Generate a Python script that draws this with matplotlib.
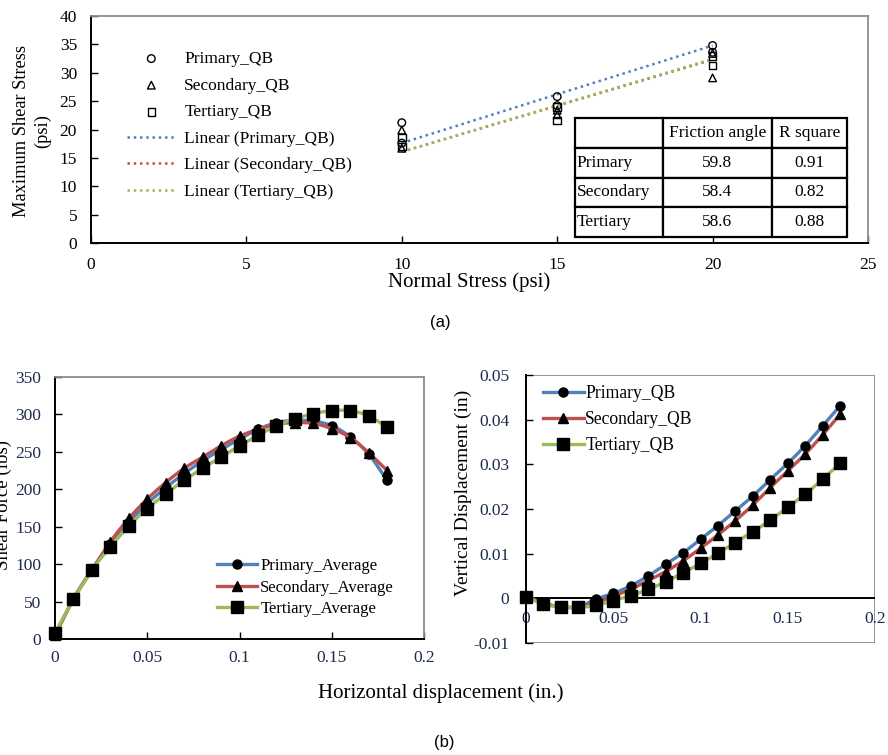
import numpy as np
import matplotlib
matplotlib.use("Agg")
import matplotlib.pyplot as plt
import matplotlib.transforms as mtransforms
from matplotlib.lines import Line2D
from matplotlib.patches import Rectangle

plt.rcParams['font.family'] = ['Liberation Serif', 'DejaVu Serif']

# ---------------- (a) shear strength envelopes ----------------
normal_stress = [10, 10, 15, 15, 20, 20]
primary_tau = [21.2, 17.6, 25.8, 24.2, 34.8, 33.6]
secondary_tau = [19.9, 16.7, 23.4, 22.6, 33.4, 29.1]
tertiary_tau = [18.6, 17.0, 24.0, 21.6, 33.0, 31.3]

table_rows = ["Primary", "Secondary", "Tertiary"]
table_cols = ["", "Friction angle", "R square"]
friction_angle = [59.8, 58.4, 58.6]
r_square = [0.91, 0.82, 0.88]

# ---------------- (b) direct shear curves ----------------
horiz_disp = [0.00, 0.01, 0.02, 0.03, 0.04, 0.05, 0.06, 0.07, 0.08, 0.09,
              0.10, 0.11, 0.12, 0.13, 0.14, 0.15, 0.16, 0.17, 0.18]
shear_primary = [5, 54, 93, 127, 156, 181, 202, 221, 238, 253,
                 267, 280, 289, 292, 291, 285, 270, 247, 212]
shear_secondary = [5, 53, 92, 130, 161, 187, 209, 228, 243, 258,
                   271, 280, 287, 289, 288, 281, 269, 249, 225]
shear_tertiary = [8, 53, 92, 123, 151, 174, 194, 212, 228, 243,
                  258, 272, 285, 294, 301, 305, 305, 298, 283]

vert_primary = [0.0004, -0.0011, -0.0019, -0.0019, -0.0002, 0.0011, 0.0028, 0.0050,
                0.0076, 0.0102, 0.0132, 0.0163, 0.0196, 0.0229, 0.0266, 0.0302,
                0.0342, 0.0386, 0.0431]
vert_secondary = [0.0004, -0.0011, -0.0019, -0.0020, -0.0010, 0.0005, 0.0020, 0.0040,
                  0.0060, 0.0084, 0.0112, 0.0142, 0.0174, 0.0209, 0.0248, 0.0285,
                  0.0323, 0.0366, 0.0412]
vert_tertiary = [0.0004, -0.0013, -0.0019, -0.0020, -0.0016, -0.0005, 0.0006, 0.0020,
                 0.0037, 0.0057, 0.0078, 0.0101, 0.0125, 0.0149, 0.0175, 0.0204,
                 0.0233, 0.0267, 0.0302]

x_ticks_b = [0, 0.05, 0.1, 0.15, 0.2]
x_ticklabels_b = ["0", "0.05", "0.1", "0.15", "0.2"]

BLUE = '#4F81BD'
RED = '#C0504D'
GREEN = '#9BBB59'
BORDER = '#8c8c8c'
TICKCOL = '#1d2b4f'

W, H = 888, 755
fig = plt.figure(figsize=(W / 100, H / 100), dpi=100)


def px_axes(x0, y0, x1, y1):
    """Axes from pixel box (top-left origin)."""
    return fig.add_axes([x0 / W, 1 - y1 / H, (x1 - x0) / W, (y1 - y0) / H])


def smooth(x, y, n=14):
    """Catmull-Rom curve through the points (like a smoothed chart line)."""
    pts = np.column_stack([x, y]).astype(float)
    P = np.vstack([2 * pts[0] - pts[1], pts, 2 * pts[-1] - pts[-2]])
    t = np.linspace(0, 1, n, endpoint=False)[:, None]
    segs = []
    for i in range(1, len(P) - 2):
        p0, p1, p2, p3 = P[i - 1], P[i], P[i + 1], P[i + 2]
        seg = 0.5 * (2 * p1 + (-p0 + p2) * t + (2 * p0 - 5 * p1 + 4 * p2 - p3) * t ** 2
                     + (-p0 + 3 * p1 - 3 * p2 + p3) * t ** 3)
        segs.append(seg)
    segs.append(pts[-1:])
    c = np.vstack(segs)
    return c[:, 0], c[:, 1]


def frame(ax):
    for s in ['top', 'right']:
        ax.spines[s].set_color(BORDER)
        ax.spines[s].set_linewidth(1.3)
    for s in ['left', 'bottom']:
        ax.spines[s].set_color('black')
        ax.spines[s].set_linewidth(1.4)


# ======================= panel (a) =======================
axa = px_axes(91, 16, 868, 243)
frame(axa)
axa.set_xlim(0, 25)
axa.set_ylim(0, 40)
axa.set_xticks(range(0, 26, 5))
axa.set_yticks(range(0, 41, 5))
axa.tick_params(direction='in', length=5, width=1, labelsize=12.5, pad=10,
                colors='black')
axa.tick_params(axis='x', pad=10)

mk = dict(s=30, facecolors='none', edgecolors='black', linewidths=1.0, zorder=3)
axa.scatter(normal_stress, primary_tau, marker='o', label='Primary_QB', **mk)
axa.scatter(normal_stress, secondary_tau, marker='^', label='Secondary_QB', **mk)
axa.scatter(normal_stress, tertiary_tau, marker='s', label='Tertiary_QB', **mk)

xs = np.array([min(normal_stress), max(normal_stress)], dtype=float)
for tau, phi, col, name in [(primary_tau, friction_angle[0], BLUE, 'Primary_QB'),
                            (secondary_tau, friction_angle[1], RED, 'Secondary_QB'),
                            (tertiary_tau, friction_angle[2], GREEN, 'Tertiary_QB')]:
    slope = np.tan(np.radians(phi))
    icpt = np.mean(tau) - slope * np.mean(normal_stress)
    axa.plot(xs, icpt + slope * xs, color=col, lw=1.8, ls=(0, (1, 1.5)),
             label=f'Linear ({name})', zorder=2)

axa.legend(loc='upper left', bbox_to_anchor=(127 / W, 1 - 51 / H),
           bbox_transform=fig.transFigure, frameon=False, fontsize=12.5,
           handlelength=2.8, handletextpad=0.5, labelspacing=0.6,
           borderpad=0, borderaxespad=0, scatterpoints=1)

cell_text = [[table_rows[i], f"{friction_angle[i]:.1f}", f"{r_square[i]:.2f}"]
             for i in range(3)]
tb = axa.table(cellText=cell_text, colLabels=table_cols,
               colWidths=[88, 110, 75], cellLoc='center',
               bbox=[(575 - 91) / 777, (243 - 237) / 227, 272 / 777, 119 / 227])
tb.auto_set_font_size(False)
tb.set_fontsize(12.5)
for (r, c), cell in tb.get_celld().items():
    cell.set_linewidth(1.6)
    cell.set_edgecolor('black')
    cell.set_facecolor('white')
    if c == 0:
        cell._loc = 'left'
        cell.PAD = 0.02
        cell.get_text().set_ha('left')

fig.text(32 / W, 1 - 131 / H, "Maximum Shear Stress\n(psi)", rotation=90,
         ha='center', va='center', fontsize=13.2, linespacing=1.25)
fig.text(469 / W, 1 - 282 / H, "Normal Stress (psi)", ha='center', va='center',
         fontsize=15)
fig.text(440 / W, 1 - 323 / H, "(a)", ha='center', va='center', fontsize=12,
         family='Liberation Sans')

# ======================= panel (b) left =======================
axl = px_axes(55, 377, 424, 639)
frame(axl)
axl.set_xlim(0, 0.2)
axl.set_ylim(0, 350)
axl.set_xticks(x_ticks_b)
axl.set_xticklabels(x_ticklabels_b)
axl.set_yticks(range(0, 351, 50))
axl.tick_params(direction='in', length=5, width=1, labelsize=12.5, pad=10,
                labelcolor=TICKCOL)
axl.tick_params(axis='x', pad=8)

series_l = [(shear_primary, BLUE, 'o', 6.5, 'Primary_Average'),
            (shear_secondary, RED, '^', 7.5, 'Secondary_Average'),
            (shear_tertiary, GREEN, 's', 8, 'Tertiary_Average')]
handles = []
for ys, col, m, ms, name in series_l:
    sx, sy = smooth(horiz_disp, ys)
    axl.plot(sx, sy, color=col, lw=2.4, solid_capstyle='round', clip_on=False)
    axl.plot(horiz_disp, ys, ls='none', marker=m, ms=ms, color='black', clip_on=False)
    handles.append(Line2D([], [], color=col, lw=2.4, marker=m, ms=ms,
                          mfc='black', mec='black', label=name))
axl.legend(handles=handles, loc='upper left', bbox_to_anchor=(217 / W, 1 - 558 / H),
           bbox_transform=fig.transFigure, frameon=False, fontsize=12,
           handlelength=2.4, handletextpad=0.2, labelspacing=0.33,
           borderpad=0, borderaxespad=0)

fig.text(12 / W, 1 - 505 / H, "Shear Force (lbs)", rotation=90, ha='right',
         va='center', fontsize=13.6)

# ======================= panel (b) right =======================
axr = px_axes(526, 375, 875, 643)
axr.set_xlim(0, 0.2)
axr.set_ylim(-0.01, 0.05)
for s in ['top', 'right', 'bottom']:
    axr.spines[s].set_visible(False)
axr.add_patch(Rectangle((0, 0), 1, 1, transform=axr.transAxes, fill=False,
                        edgecolor=BORDER, lw=1.3, zorder=0.5))
axr.spines['left'].set_color('black')
axr.spines['left'].set_linewidth(1.4)
axr.spines['left'].set_zorder(3)
axr.axhline(0, color='black', lw=1.4, zorder=1.5)
axr.set_xticks([])
axr.set_yticks([-0.01, 0, 0.01, 0.02, 0.03, 0.04, 0.05])
axr.set_yticklabels(["-0.01", "0", "0.01", "0.02", "0.03", "0.04", "0.05"])
axr.tick_params(axis='y', direction='in', length=5, width=1, labelsize=12.5, pad=12,
                labelcolor=TICKCOL)
# x tick labels sit just under the zero line
below_zero = mtransforms.offset_copy(axr.transData, fig=fig, x=0, y=-21, units='dots')
for xv, txt in zip(x_ticks_b, x_ticklabels_b):
    axr.text(xv, 0, txt, transform=below_zero, ha='center', va='center',
             fontsize=12.5, color=TICKCOL, clip_on=False)

series_r = [(vert_primary, BLUE, 'o', 6.5, 'Primary_QB'),
            (vert_secondary, RED, '^', 7.5, 'Secondary_QB'),
            (vert_tertiary, GREEN, 's', 8, 'Tertiary_QB')]
handles = []
for ys, col, m, ms, name in series_r:
    sx, sy = smooth(horiz_disp, ys)
    axr.plot(sx, sy, color=col, lw=2.4, zorder=2)
    axr.plot(horiz_disp, ys, ls='none', marker=m, ms=ms, color='black', zorder=2.1,
             clip_on=False)
    handles.append(Line2D([], [], color=col, lw=2.4, marker=m, ms=ms,
                          mfc='black', mec='black', label=name))
axr.legend(handles=handles, loc='upper left', bbox_to_anchor=(543 / W, 1 - 385 / H),
           bbox_transform=fig.transFigure, frameon=False, fontsize=12.7,
           handlelength=2.3, handletextpad=0.1, labelspacing=0.52,
           borderpad=0, borderaxespad=0)

fig.text(463 / W, 1 - 493 / H, "Vertical Displacement (in)", rotation=90,
         ha='center', va='center', fontsize=14)

fig.text(441 / W, 1 - 693 / H, "Horizontal displacement (in.)", ha='center',
         va='center', fontsize=15)
fig.text(444 / W, 1 - 742 / H, "(b)", ha='center', va='center', fontsize=12,
         family='Liberation Sans')

fig.savefig("out.png", dpi=100)
